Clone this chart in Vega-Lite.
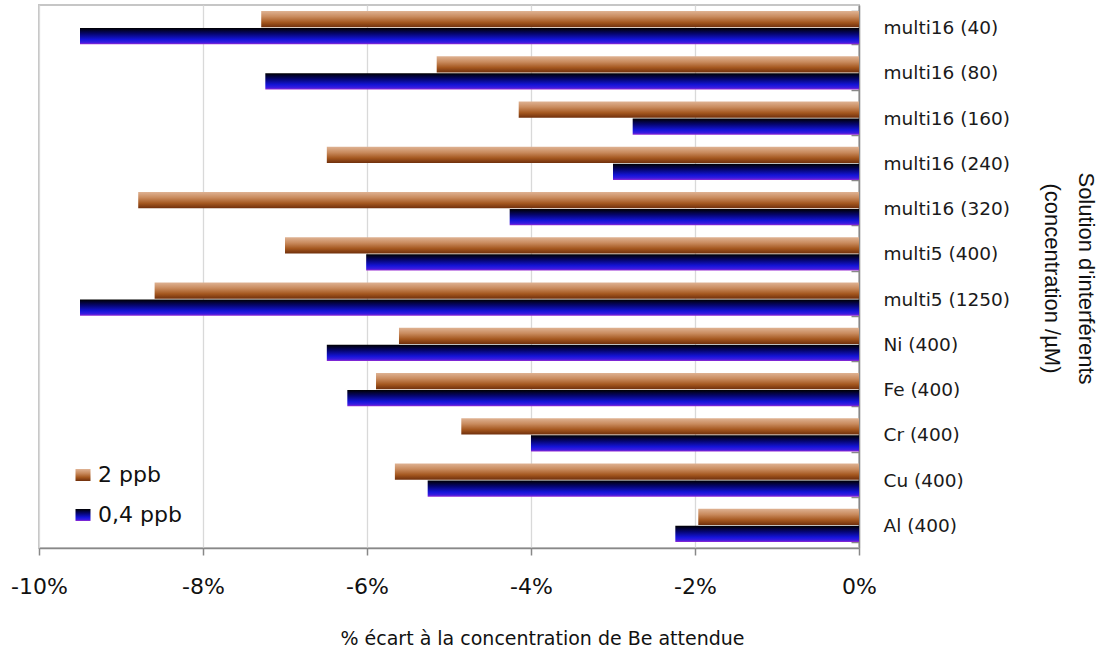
{
  "$schema": "https://vega.github.io/schema/vega-lite/v6.json",
  "width": 820,
  "height": 543,
  "autosize": {"type": "none"},
  "padding": {"left": 39, "top": 5, "right": 243, "bottom": 105},
  "background": "white",
  "config": {"view": {"stroke": "#c6c6c6", "strokeWidth": 2}},
  "data": {
    "values": [
      {"solution": "multi16 (40)", "serie": "2 ppb", "ecart": -0.0729},
      {"solution": "multi16 (40)", "serie": "0,4 ppb", "ecart": -0.0950},
      {"solution": "multi16 (80)", "serie": "2 ppb", "ecart": -0.0515},
      {"solution": "multi16 (80)", "serie": "0,4 ppb", "ecart": -0.0724},
      {"solution": "multi16 (160)", "serie": "2 ppb", "ecart": -0.0415},
      {"solution": "multi16 (160)", "serie": "0,4 ppb", "ecart": -0.0276},
      {"solution": "multi16 (240)", "serie": "2 ppb", "ecart": -0.0649},
      {"solution": "multi16 (240)", "serie": "0,4 ppb", "ecart": -0.0300},
      {"solution": "multi16 (320)", "serie": "2 ppb", "ecart": -0.0879},
      {"solution": "multi16 (320)", "serie": "0,4 ppb", "ecart": -0.0426},
      {"solution": "multi5 (400)", "serie": "2 ppb", "ecart": -0.0700},
      {"solution": "multi5 (400)", "serie": "0,4 ppb", "ecart": -0.0601},
      {"solution": "multi5 (1250)", "serie": "2 ppb", "ecart": -0.0859},
      {"solution": "multi5 (1250)", "serie": "0,4 ppb", "ecart": -0.0950},
      {"solution": "Ni (400)", "serie": "2 ppb", "ecart": -0.0561},
      {"solution": "Ni (400)", "serie": "0,4 ppb", "ecart": -0.0649},
      {"solution": "Fe (400)", "serie": "2 ppb", "ecart": -0.0589},
      {"solution": "Fe (400)", "serie": "0,4 ppb", "ecart": -0.0624},
      {"solution": "Cr (400)", "serie": "2 ppb", "ecart": -0.0485},
      {"solution": "Cr (400)", "serie": "0,4 ppb", "ecart": -0.0400},
      {"solution": "Cu (400)", "serie": "2 ppb", "ecart": -0.0566},
      {"solution": "Cu (400)", "serie": "0,4 ppb", "ecart": -0.0526},
      {"solution": "Al (400)", "serie": "2 ppb", "ecart": -0.0196},
      {"solution": "Al (400)", "serie": "0,4 ppb", "ecart": -0.0224}
    ]
  },
  "mark": {"type": "bar"},
  "encoding": {
    "y": {
      "field": "solution",
      "type": "nominal",
      "sort": ["multi16 (40)", "multi16 (80)", "multi16 (160)", "multi16 (240)", "multi16 (320)", "multi5 (400)", "multi5 (1250)", "Ni (400)", "Fe (400)", "Cr (400)", "Cu (400)", "Al (400)"],
      "scale": {"paddingInner": 0.26, "paddingOuter": 0.13},
      "axis": {
        "orient": "right",
        "title": ["Solution d'interférents", "(concentration /µM)"],
        "labelFont": "DejaVu Sans",
        "labelFontSize": 18.5,
        "labelColor": "#1a1a1a",
        "labelAlign": "left",
        "labelPadding": 32,
        "tickSize": -8,
        "tickBand": "extent",
        "tickColor": "#888888",
        "tickWidth": 1.5,
        "domainColor": "#888888",
        "domainWidth": 1.5,
        "grid": false,
        "titleFont": "Liberation Sans",
        "titleFontSize": 22,
        "titleFontWeight": "normal",
        "titleColor": "#111111",
        "titleAngle": 90,
        "titleBaseline": "middle",
        "titleAlign": "center",
        "titleX": 226,
        "titleY": 273,
        "titleLineHeight": 34
      }
    },
    "yOffset": {
      "field": "serie",
      "type": "nominal",
      "sort": ["2 ppb", "0,4 ppb"],
      "scale": {"domain": ["2 ppb", "0,4 ppb"], "paddingInner": 0.04}
    },
    "x": {
      "field": "ecart",
      "type": "quantitative",
      "scale": {"domain": [-0.1, 0], "nice": false},
      "axis": {
        "values": [-0.1, -0.08, -0.06, -0.04, -0.02, 0],
        "format": ".0%",
        "labelExpr": "replace(datum.label, '−', '-')",
        "labelFlush": false,
        "labelOverlap": false,
        "labelFont": "DejaVu Sans",
        "labelFontSize": 22,
        "labelColor": "#111111",
        "labelPadding": 21,
        "tickSize": 7,
        "tickColor": "#888888",
        "tickWidth": 1.5,
        "domainColor": "#888888",
        "domainWidth": 1.5,
        "gridColor": "#d9d9d9",
        "gridWidth": 1.3,
        "title": "% écart à la concentration de Be attendue",
        "titleFont": "DejaVu Sans",
        "titleFontSize": 19,
        "titleFontWeight": "normal",
        "titleColor": "#111111",
        "titleBaseline": "middle",
        "titleAlign": "center",
        "titleX": 503,
        "titleY": 90
      }
    },
    "fill": {
      "field": "serie",
      "type": "nominal",
      "scale": {
        "domain": ["2 ppb", "0,4 ppb"],
        "range": [
          {"expr": "{gradient: 'linear', x1: 0, y1: 0, x2: 0, y2: 1, stops: [{offset: 0, color: '#dfb394'}, {offset: 0.35, color: '#c98b5e'}, {offset: 0.7, color: '#a4571f'}, {offset: 1, color: '#6f2f0c'}]}"},
          {"expr": "{gradient: 'linear', x1: 0, y1: 0, x2: 0, y2: 1, stops: [{offset: 0, color: '#000000'}, {offset: 0.35, color: '#05056e'}, {offset: 0.7, color: '#1414d8'}, {offset: 0.88, color: '#3a1ce0'}, {offset: 1, color: '#9a2ad0'}]}"}
        ]
      },
      "legend": {
        "orient": "none",
        "legendX": 33,
        "legendY": 459,
        "title": null,
        "direction": "vertical",
        "symbolType": "M-1,-0.8H1V0.8H-1Z",
        "symbolSize": 225,
        "symbolStrokeWidth": 0,
        "labelFont": "DejaVu Sans",
        "labelFontSize": 22,
        "labelColor": "#111111",
        "labelOffset": 4,
        "rowPadding": 18,
        "padding": 0
      }
    }
  }
}
